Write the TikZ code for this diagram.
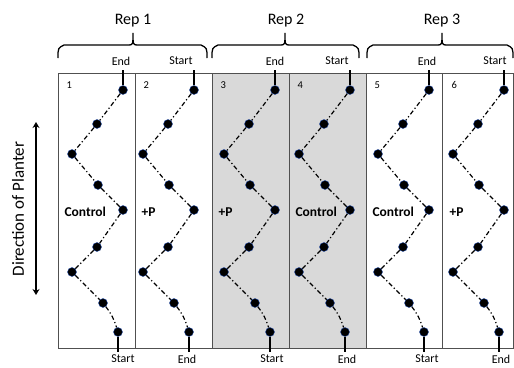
\documentclass[tikz,border=0pt]{standalone}
\usepackage{fontspec}
\setmainfont{Carlito}
\usetikzlibrary{decorations.pathreplacing,positioning,calc,arrows.meta}

\definecolor{rowgray}{RGB}{217,217,217}
\definecolor{rowline}{RGB}{80,80,80}
\definecolor{seedrim}{RGB}{40,80,170}

\tikzset{
	rowbox/.style={draw=rowline, line width=0.9pt},
	seed/.style={circle, fill=black, draw=seedrim, line width=0.4pt, inner sep=0pt, minimum size=9pt},
	seedline/.style={line width=1.2pt, dash pattern=on 4.5pt off 2.5pt on 1.2pt off 2.5pt},
	stub/.style={line width=1.1pt},
	trt/.style={anchor=west, font=\bfseries\fontsize{13.5}{15}\selectfont},
	endlbl/.style={font=\fontsize{12}{14}\selectfont},
	replbl/.style={font=\fontsize{16}{18}\selectfont},
	repbrace/.style={line width=1.3pt},
}

% brace over one rep: left end, tip, right end
\newcommand{\repbrace}[3]{%
	\draw[repbrace] (#1,58) .. controls (#1,48) .. (#1+6,45) -- (#2-5,45)
		.. controls (#2,45) .. (#2,33) .. controls (#2,45) .. (#2+5,45) -- (#3-6,45)
		.. controls (#3,48) .. (#3,58);}

\begin{document}
\begin{tikzpicture}[x=1pt,y=-1pt]
	\useasboundingbox (0,0) rectangle (514,367);
	% rows 3 and 4 are grey
	\fill[rowgray] (212,73) rectangle (366,348);
	\draw[rowbox] (58,73) rectangle (513.5,348);
	\foreach \xd in {135,212,289,366,442}
		\draw[rowbox] (\xd,73) -- (\xd,348);
	% seeds in each row
	\foreach \c/\dx/\trt in {1/3/Control, 2/-3/+P, 3/1/+P, 4/-1/Control, 5/1/Control, 6/-1/+P}{
		\begin{scope}[xshift={58+77*(\c-1)+\dx}]
			\foreach \p/\x/\y in {1/62/90, 2/36/124, 3/11/154, 4/37/185, 5/62/210, 6/36/247, 7/11/272, 8/42/303, 9/57/332}
				\node[seed] (s\c-\p) at (\x,\y) {};
			\coordinate (top\c) at (62,70);
			\coordinate (bot\c) at (57,352);
			\draw[stub] (top\c) -- (s\c-1);
			\draw[stub] (s\c-9) -- (bot\c);
			\draw[seedline] (s\c-1) -- (s\c-2) -- (s\c-3) -- (s\c-4) -- (s\c-5) -- (s\c-6) -- (s\c-7) -- (s\c-8) to[bend left=10] (s\c-9);
		\end{scope}
		\node[anchor=west, font=\fontsize{10.5}{12}\selectfont] (n\c) at ({58+77*(\c-1)+5},85) {\c};
		\node[trt] (t\c) at ({58+77*(\c-1)+3},212) {\trt};
	}
	% end and start of the rows
	\foreach \c/\x/\txt in {1/121/End, 2/181/Start, 3/275/End, 4/337/Start, 5/427/End, 6/495/Start}
		\node[endlbl] (top-lbl\c) at (\x,61) {\txt};
	\foreach \c/\x/\txt in {1/123/Start, 2/187/End, 3/272/Start, 4/347/End, 5/427/Start, 6/501/End}
		\node[endlbl] (bot-lbl\c) at (\x,359) {\txt};
	% reps
	\repbrace{58}{133}{207}
	\repbrace{212}{285}{359}
	\repbrace{367}{442}{513}
	\node[replbl] (rep1) at (133,21) {Rep 1};
	\node[replbl] (rep2) at (286,21) {Rep 2};
	\node[replbl] (rep3) at (442,21) {Rep 3};
	% planter
	\coordinate (dirtop) at (36,122);
	\coordinate (dirbot) at (36,295);
	\draw[{Stealth[length=6pt,width=7pt]}-{Stealth[length=6pt,width=7pt]}, line width=1.4pt] (dirtop) -- (dirbot);
	\node[rotate=90, font=\fontsize{17}{19}\selectfont] (dir) at (18,209) {Direction of Planter};
\end{tikzpicture}
\end{document}
